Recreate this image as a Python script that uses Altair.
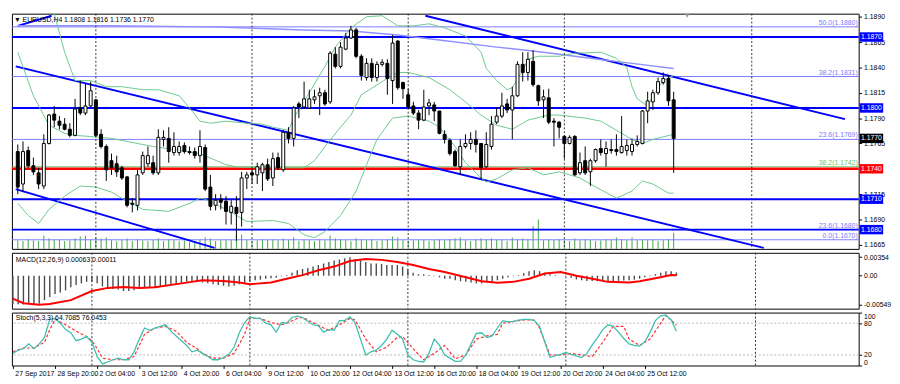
import altair as alt
import pandas as pd

FONT = "Liberation Sans"

# ---------------- price bars (H4, 27 Sep 2017 12:00 -> 26 Oct 2017 12:00) ----------------
opens = [1.1757,1.1725,1.1758,1.1743,1.1736,1.1723,1.1765,1.1794,1.1787,1.1784,
 1.1779,1.1773,1.1800,1.1795,1.1802,1.1808,1.1774,1.1762,1.1748,1.1745,
 1.1741,1.1732,1.1706,1.1704,1.1736,1.1745,1.1746,1.1736,1.1769,1.1770,
 1.1756,1.1756,1.1763,1.1757,1.1757,1.1753,1.1761,1.1722,1.1704,1.1710,
 1.1708,1.1697,1.1702,1.1697,1.1731,1.1736,1.1734,1.1736,1.1744,1.1731,
 1.1751,1.1739,1.1776,1.1770,1.1804,1.1801,1.1800,1.1808,1.1812,1.1815,
 1.1806,1.1853,1.1841,1.1858,1.1869,1.1877,1.1851,1.1830,1.1844,1.1830,
 1.1843,1.1844,1.1827,1.1866,1.1825,1.1813,1.1802,1.1795,1.1788,1.1802,
 1.1803,1.1797,1.1774,1.1768,1.1757,1.1742,1.1762,1.1765,1.1769,1.1765,
 1.1742,1.1762,1.1786,1.1792,1.1804,1.1798,1.1812,1.1843,1.1835,1.1846,
 1.1822,1.1808,1.1810,1.1787,1.1786,1.1772,1.1765,1.1772,1.1736,1.1748,
 1.1737,1.1748,1.1760,1.1755,1.1759,1.1759,1.1756,1.1758,1.1757,1.1764,
 1.1765,1.1797,1.1806,1.1815,1.1825,1.1829,1.1808]
highs = [1.1764,1.1767,1.1762,1.1751,1.1741,1.1774,1.1794,1.1802,1.1792,1.1790,
 1.1785,1.1809,1.1827,1.1824,1.1826,1.1809,1.1779,1.1764,1.1755,1.1753,
 1.1743,1.1733,1.1711,1.1739,1.1757,1.1762,1.1753,1.1779,1.1778,1.1781,
 1.1776,1.1767,1.1766,1.1762,1.1761,1.1778,1.1764,1.1734,1.1715,1.1715,
 1.1713,1.1709,1.1713,1.1737,1.1737,1.1741,1.1746,1.1746,1.1750,1.1756,
 1.1756,1.1778,1.1781,1.1802,1.1806,1.1826,1.1818,1.1818,1.1820,1.1818,
 1.1856,1.1860,1.1865,1.1874,1.1881,1.1879,1.1853,1.1849,1.1849,1.1846,
 1.1848,1.1848,1.1872,1.1867,1.1826,1.1819,1.1806,1.1798,1.1818,1.1809,
 1.1806,1.1797,1.1778,1.1770,1.1759,1.1769,1.1774,1.1776,1.1778,1.1765,
 1.1776,1.1792,1.1800,1.1815,1.1809,1.1821,1.1846,1.1855,1.1855,1.1857,
 1.1823,1.1818,1.1819,1.1790,1.1787,1.1773,1.1773,1.1773,1.1756,1.1762,
 1.1750,1.1760,1.1769,1.1767,1.1769,1.1774,1.1792,1.1769,1.1770,1.1773,
 1.1798,1.1816,1.1818,1.1830,1.1835,1.1832,1.1816]
lows = [1.1715,1.1717,1.1741,1.1734,1.1720,1.1720,1.1764,1.1781,1.1779,1.1778,
 1.1771,1.1772,1.1793,1.1793,1.1801,1.1771,1.1760,1.1728,1.1734,1.1732,
 1.1729,1.1702,1.1697,1.1699,1.1734,1.1742,1.1734,1.1734,1.1762,1.1746,
 1.1753,1.1753,1.1755,1.1754,1.1750,1.1746,1.1718,1.1699,1.1699,1.1700,
 1.1685,1.1685,1.1669,1.1683,1.1720,1.1725,1.1725,1.1718,1.1728,1.1723,
 1.1739,1.1737,1.1765,1.1762,1.1790,1.1799,1.1799,1.1804,1.1793,1.1802,
 1.1804,1.1839,1.1839,1.1857,1.1868,1.1849,1.1827,1.1827,1.1826,1.1826,
 1.1841,1.1813,1.1804,1.1818,1.1809,1.1799,1.1793,1.1779,1.1787,1.1793,
 1.1787,1.1774,1.1765,1.1753,1.1742,1.1734,1.1760,1.1759,1.1756,1.1730,
 1.1741,1.1759,1.1784,1.1790,1.1795,1.1769,1.1811,1.1826,1.1827,1.1821,
 1.1802,1.1790,1.1784,1.1762,1.1770,1.1750,1.1764,1.1733,1.1734,1.1734,
 1.1723,1.1746,1.1753,1.1742,1.1755,1.1753,1.1755,1.1753,1.1753,1.1762,
 1.1764,1.1785,1.1798,1.1813,1.1823,1.1802,1.1736]
closes = [1.1722,1.1757,1.1743,1.1737,1.1725,1.1765,1.1793,1.1788,1.1783,1.1779,
 1.1773,1.1799,1.1795,1.1802,1.1817,1.1773,1.1762,1.1739,1.1741,1.1737,
 1.1731,1.1704,1.1705,1.1734,1.1753,1.1753,1.1736,1.1771,1.1771,1.1757,
 1.1762,1.1762,1.1757,1.1756,1.1753,1.1762,1.1720,1.1703,1.1709,1.1707,
 1.1698,1.1703,1.1696,1.1731,1.1734,1.1734,1.1742,1.1744,1.1730,1.1750,
 1.1741,1.1776,1.1770,1.1800,1.1801,1.1809,1.1809,1.1811,1.1815,1.1804,
 1.1854,1.1841,1.1860,1.1869,1.1877,1.1851,1.1832,1.1844,1.1830,1.1843,
 1.1845,1.1829,1.1864,1.1820,1.1819,1.1801,1.1795,1.1788,1.1801,1.1805,
 1.1797,1.1775,1.1769,1.1755,1.1743,1.1762,1.1765,1.1769,1.1764,1.1741,
 1.1764,1.1784,1.1792,1.1802,1.1798,1.1812,1.1843,1.1835,1.1848,1.1823,
 1.1807,1.1811,1.1786,1.1786,1.1781,1.1765,1.1771,1.1734,1.1746,1.1736,
 1.1748,1.1759,1.1756,1.1760,1.1758,1.1757,1.1762,1.1763,1.1764,1.1767,
 1.1797,1.1807,1.1815,1.1826,1.1829,1.1807,1.1770]
volumes = [9100,8300,10200,9000,8400,14100,11200,9300,10100,8200,
 9000,11300,13200,14000,10100,12300,11000,12100,9200,8100,
 9300,11100,8200,10300,9100,8200,9400,11200,8300,10100,
 9200,8100,9000,7300,8200,10100,12200,11100,8300,9100,
 10200,9300,14200,15100,9200,8300,9100,10200,9300,10100,
 9200,11100,9300,12200,8400,10100,9200,8300,10200,9100,
 14100,11200,10300,9200,8100,11300,10100,9200,10200,8300,
 9100,10200,13100,12200,9300,8200,9100,9300,10100,8200,
 9300,10100,9200,10300,11100,12200,9100,8300,10100,11200,
 10100,11200,9300,10100,8400,12100,10200,11100,10300,24200,
 31100,9200,10100,9300,10200,9100,8300,11200,9100,10200,
 9300,8200,9100,10300,9200,12100,10100,9300,12200,9100,
 10300,9200,10100,8300,9200,10300,17200]

# ---------------- overlays ----------------
bb_upper_bars = [6,7,9,11,14,17,20,24,27,31,33,35,37,40,44,47,49,52,53,56,59,61,64,67,70,73,76,79,82,86,89,90,92,94,95,97,98,100,104,107,112,115,117,118,119,121,122,124,126]
bb_upper = [1.1912,1.1893,1.1855,1.1827,1.1827,1.1821,1.1821,1.1818,1.1818,1.1812,1.1800,1.1787,1.1785,1.1787,1.1785,1.1784,1.1781,1.1778,1.1790,1.1815,1.1841,1.1860,1.1879,1.1890,1.1891,1.1881,1.1881,1.1883,1.1879,1.1871,1.1855,1.1839,1.1827,1.1818,1.1820,1.1837,1.1848,1.1851,1.1851,1.1854,1.1855,1.1849,1.1840,1.1821,1.1809,1.1802,1.1812,1.1827,1.1832]
bb_mid_bars = [0,3,6,9,11,16,18,21,26,30,35,40,42,47,52,55,57,59,62,64,66,70,73,75,79,83,86,89,92,95,98,102,104,109,112,115,118,120,122,126]
bb_mid = [1.1855,1.1812,1.1783,1.1775,1.1773,1.1771,1.1770,1.1767,1.1762,1.1759,1.1755,1.1744,1.1742,1.1741,1.1741,1.1741,1.1748,1.1762,1.1781,1.1793,1.1813,1.1826,1.1835,1.1835,1.1830,1.1818,1.1806,1.1793,1.1783,1.1779,1.1788,1.1793,1.1793,1.1790,1.1787,1.1778,1.1769,1.1765,1.1769,1.1774]
bb_low_bars = [0,2,4,6,9,12,15,18,21,24,29,33,35,36,40,44,49,52,55,57,59,62,65,67,69,72,75,79,81,84,86,89,90,92,95,98,101,104,108,110,115,118,120,122,125,126]
bb_low = [1.1706,1.1694,1.1686,1.1700,1.1713,1.1723,1.1722,1.1717,1.1708,1.1700,1.1698,1.1706,1.1711,1.1710,1.1700,1.1688,1.1689,1.1686,1.1675,1.1672,1.1678,1.1694,1.1718,1.1744,1.1769,1.1790,1.1792,1.1787,1.1781,1.1762,1.1746,1.1731,1.1727,1.1730,1.1739,1.1741,1.1734,1.1737,1.1731,1.1725,1.1711,1.1718,1.1728,1.1725,1.1716,1.1716]
ma_bars = [0,18,37,55,64,73,81,92,101,110,118,126]
ma_vals = [1.1881,1.1881,1.1880,1.1877,1.1876,1.1872,1.1867,1.1860,1.1855,1.1849,1.1844,1.1839]

# trendlines: (bar_start, price_start, bar_end, price_end)
trend_bar0 = [-0.4, -0.4, 78.3, 0.0]
trend_p0 = [1.1841, 1.1720, 1.1891, 1.1881]
trend_bar1 = [143.3, 37.8, 158.9, 6.5]
trend_p1 = [1.1662, 1.1662, 1.1789, 1.1891]

hline_prices = [1.1870, 1.1800, 1.1710, 1.1680]
red_price = 1.1740
fib_prices = [1.1880, 1.1831, 1.1769, 1.1680, 1.1670]
fib_labels = ["50.0(1.1880)", "38.2(1.1831)", "23.6(1.1769)", "23.6(1.1680)", "0.0(1.1670)"]
fib_green_price = 1.1742
fib_green_label = "38.2(1.1742)"

price_ticks = [1.1890, 1.1865, 1.1840, 1.1815, 1.1790, 1.1765, 1.1715, 1.1690, 1.1665]
box_prices = [1.1870, 1.1800, 1.1770, 1.1740, 1.1710, 1.1680]
box_labels = ["1.1870", "1.1800", "1.1770", "1.1740", "1.1710", "1.1680"]
box_colors = ["#0000ff", "#0000ff", "#000000", "#ff0000", "#0000ff", "#0000ff"]

separator_bars = [15, 45, 75, 105, 141]

# ---------------- MACD ----------------
macd_hist = [-0.00540,-0.00545,-0.00549,-0.00545,-0.00549,-0.00535,-0.00467,-0.00408,-0.00350,-0.00321,
 -0.00280,-0.00222,-0.00175,-0.00146,-0.00117,-0.00117,-0.00146,-0.00204,-0.00233,-0.00251,
 -0.00262,-0.00292,-0.00292,-0.00280,-0.00251,-0.00233,-0.00233,-0.00216,-0.00204,-0.00192,
 -0.00163,-0.00157,-0.00134,-0.00117,-0.00117,-0.00117,-0.00128,-0.00146,-0.00163,-0.00175,
 -0.00192,-0.00204,-0.00192,-0.00163,-0.00134,-0.00105,-0.00087,-0.00076,-0.00058,-0.00047,
 -0.00041,-0.00012,0.00012,0.00058,0.00105,0.00128,0.00146,0.00175,0.00204,0.00233,
 0.00262,0.00292,0.00309,0.00332,0.00354,0.00321,0.00292,0.00262,0.00233,0.00233,
 0.00222,0.00204,0.00204,0.00204,0.00175,0.00117,0.00058,0.00029,0.00029,0.00012,
 -0.00012,-0.00029,-0.00058,-0.00058,-0.00087,-0.00105,-0.00117,-0.00128,-0.00146,-0.00146,
 -0.00128,-0.00117,-0.00087,-0.00058,-0.00029,-0.00012,0.00012,0.00047,0.00087,0.00105,
 0.00087,0.00058,0.00029,0.00012,0.0,-0.00012,-0.00041,-0.00070,-0.00087,-0.00099,
 -0.00099,-0.00105,-0.00105,-0.00099,-0.00099,-0.00099,-0.00093,-0.00087,-0.00076,-0.00058,
 -0.00029,-0.00012,0.00029,0.00058,0.00087,0.00087,0.00063]
macd_sig_bars = [0,2,5,7,11,15,18,21,24,27,32,36,40,43,45,49,52,55,58,61,64,67,70,73,76,79,82,86,89,92,95,98,101,104,107,110,113,117,119,122,125,126]
macd_sig = [-0.00437,-0.00525,-0.00554,-0.00542,-0.00467,-0.00292,-0.00233,-0.00216,-0.00233,-0.00222,-0.00146,-0.00087,-0.00099,-0.00128,-0.00163,-0.00128,-0.00058,0.00012,0.00105,0.00175,0.00280,0.00321,0.00303,0.00262,0.00204,0.00128,0.00070,-0.00029,-0.00105,-0.00134,-0.00117,-0.00058,0.00041,0.00070,0.0,-0.00058,-0.00117,-0.00128,-0.00105,-0.00047,0.00012,0.00011]
macd_ticks = [0.00354, 0.0, -0.00549]
macd_tick_labels = ["0.00354", "0.00", "-0.00549"]

# ---------------- Stochastic ----------------
stoch_main = [22.9,28.9,31.9,40.9,31.9,40.9,52.9,87.2,89.0,80.0,
 67.9,61.9,46.9,49.9,54.7,43.9,16.9,3.1,6.7,10.9,
 13.9,10.9,10.9,25.9,49.9,70.9,66.7,70.9,73.9,77.0,
 64.9,55.9,46.9,37.9,25.9,28.9,22.9,16.9,10.9,10.9,
 15.1,21.1,34.9,61.9,81.2,92.0,89.0,89.0,80.0,77.0,
 63.1,81.2,80.0,90.8,93.2,90.8,83.0,77.0,75.1,63.1,
 67.9,66.7,84.8,84.8,92.0,80.0,49.9,19.9,25.9,28.9,
 37.9,49.9,66.7,58.9,49.9,19.9,10.9,7.9,6.7,22.9,
 49.9,37.9,19.9,13.9,7.9,7.9,19.9,40.9,60.7,61.9,
 52.9,55.9,70.9,84.8,82.4,83.6,86.0,87.2,87.2,84.8,
 73.9,43.9,15.1,18.7,21.1,24.7,21.1,18.1,15.1,22.9,
 39.1,52.9,67.9,77.0,73.9,63.1,51.1,40.9,37.9,36.7,
 45.1,63.1,84.8,93.8,95.0,86.0,64.7]
stoch_sig_bars = [0,2,4,6,7,8,10,12,14,15,16,17,19,21,23,24,25,27,29,31,33,35,36,38,40,42,44,45,47,49,51,52,54,55,57,59,60,62,64,65,67,69,71,73,74,76,78,80,82,84,86,88,90,92,93,95,97,99,100,102,104,106,108,110,112,114,116,117,119,121,123,124,126]
stoch_sig = [25.9,33.1,33.1,43.9,67.9,87.2,77.0,64.9,54.7,46.9,31.9,13.9,10.9,10.9,16.9,37.9,58.9,70.9,73.9,64.9,43.9,31.9,22.9,13.9,13.9,22.9,58.9,89.0,89.0,81.2,77.0,80.0,89.0,90.8,81.2,70.9,66.7,77.0,89.0,86.0,49.9,25.9,34.9,52.9,54.7,31.9,10.9,22.9,37.9,12.7,19.9,49.9,55.9,58.9,80.0,83.0,86.0,86.0,70.9,19.9,19.9,22.9,19.9,16.9,43.9,73.9,73.9,49.9,37.9,49.9,80.0,95.0,76.0]
stoch_ticks = [100, 80, 20, 0]
stoch_levels = [80, 20]

x_label_bars = [0, 8, 16, 24, 32, 40, 48, 56, 64, 72, 80, 88, 96, 104, 112, 120]
x_labels = ["27 Sep 2017", "28 Sep 20:00", "2 Oct 04:00", "3 Oct 12:00", "4 Oct 20:00",
            "6 Oct 04:00", "9 Oct 12:00", "10 Oct 20:00", "12 Oct 04:00", "13 Oct 12:00",
            "16 Oct 20:00", "18 Oct 04:00", "19 Oct 12:00", "20 Oct 20:00", "24 Oct 04:00",
            "25 Oct 12:00"]

title_text = "\u25bc EURUSD,H4  1.1808 1.1816 1.1736 1.1770"
macd_text = "MACD(12,26,9) 0.00063 0.00011"
stoch_text = "Stoch(5,3,3) 64.7085 76.0453"

# ---------------- frames ----------------
N = len(opens)
cd = pd.DataFrame({"bar": list(range(N)), "open": opens, "high": highs,
                   "low": lows, "close": closes, "vol": volumes})
cd["lo"] = cd[["open", "close"]].min(axis=1)
cd["hi"] = cd[["open", "close"]].max(axis=1)
cd["bull"] = cd["close"] >= cd["open"]
cd["zero"] = 0.0

W = 864
xs = alt.Scale(domain=[-0.186, 160.6], nice=False, zero=False)
ps = alt.Scale(domain=[1.1661, 1.1893], nice=False, zero=False)
price_axis = alt.Axis(orient="right", values=price_ticks, format=".4f", tickSize=3,
                      labelPadding=2, title=None, grid=False, domain=False,
                      labelOverlap=False)


def XN(f="bar"):
    return alt.X(f"{f}:Q", scale=xs, axis=None, title=None)


def YP(f):
    return alt.Y(f"{f}:Q", scale=ps, axis=price_axis, title=None)


sep_df = pd.DataFrame({"bar": separator_bars})

vol_layer = alt.Chart(cd).mark_rule(color="#3fa33f", strokeWidth=1).encode(
    x=XN(), y=alt.Y("vol:Q", scale=alt.Scale(domain=[0, 249000], nice=False), axis=None),
    y2="zero:Q")

fib_df = pd.DataFrame({"price": fib_prices + [fib_green_price],
                       "label": fib_labels + [fib_green_label],
                       "color": ["#7a7aff"] * len(fib_prices) + ["#6cc36c"]})
fib_rules = alt.Chart(fib_df).mark_rule(strokeWidth=1).encode(
    y=YP("price"), color=alt.Color("color:N", scale=None))
hl_df = pd.DataFrame({"price": hline_prices})
hl_rules = alt.Chart(hl_df).mark_rule(strokeWidth=2, color="#0000ff").encode(y=YP("price"))
red_rule = alt.Chart(pd.DataFrame({"price": [red_price]})).mark_rule(
    strokeWidth=2.5, color="#ff0000").encode(y=YP("price"))

tr_df = pd.DataFrame({"b0": trend_bar0, "p0": trend_p0, "b1": trend_bar1, "p1": trend_p1})
trend = alt.Chart(tr_df).mark_rule(strokeWidth=2, color="#0000ff", clip=True).encode(
    x=XN("b0"), x2="b1:Q", y=YP("p0"), y2="p1:Q")

ma_df = pd.DataFrame({"bar": ma_bars, "v": ma_vals})
ma_line = alt.Chart(ma_df).mark_line(strokeWidth=1.5, color="#8f8fff", clip=True).encode(
    x=XN(), y=YP("v"))

bb_df = pd.concat([
    pd.DataFrame({"bar": bb_upper_bars, "v": bb_upper, "band": "up"}),
    pd.DataFrame({"bar": bb_mid_bars, "v": bb_mid, "band": "mid"}),
    pd.DataFrame({"bar": bb_low_bars, "v": bb_low, "band": "low"}),
])
bands = alt.Chart(bb_df).mark_line(strokeWidth=1, color="#6cc98c", clip=True).encode(
    x=XN(), y=YP("v"), detail="band:N")

seps_main = alt.Chart(sep_df).mark_rule(strokeDash=[2, 2], color="#333333", strokeWidth=1).encode(x=XN())

wicks = alt.Chart(cd).mark_rule(color="black", strokeWidth=1).encode(
    x=XN(), y=YP("low"), y2="high:Q")
bodies = alt.Chart(cd).mark_bar(size=3, stroke="black", strokeWidth=1).encode(
    x=XN(), y=YP("lo"), y2="hi:Q",
    fill=alt.condition("datum.bull", alt.value("white"), alt.value("black")))

fib_text = alt.Chart(fib_df).mark_text(align="right", baseline="bottom", dy=-1,
                                       fontSize=7, font=FONT).encode(
    x=alt.value(W - 1), y=YP("price"), text="label:N", color=alt.Color("color:N", scale=None))

box_df = pd.DataFrame({"price": box_prices, "label": box_labels, "bg": box_colors})
BOX = "M-1,-0.4H1V0.4H-1Z"
boxes = alt.Chart(box_df).mark_point(shape=BOX, size=576, filled=True, opacity=1,
                                     strokeWidth=0).encode(
    x=alt.value(W + 13), y=YP("price"), color=alt.Color("bg:N", scale=None))
box_text = alt.Chart(box_df).mark_text(color="white", fontSize=7, font=FONT,
                                       align="center", baseline="middle").encode(
    x=alt.value(W + 13), y=YP("price"), text="label:N")

title = alt.Chart(pd.DataFrame({"t": [title_text]})).mark_text(
    align="left", baseline="middle", fontSize=7, font=FONT, color="black").encode(
    x=alt.value(2), y=alt.value(6), text="t:N")
tri = alt.Chart(pd.DataFrame({"t": [0]})).mark_point(
    shape="triangle-down", filled=True, color="#9a9a9a", size=22, opacity=1).encode(
    x=alt.value(689), y=alt.value(2))

main = alt.layer(
    vol_layer,
    alt.layer(fib_rules, hl_rules, red_rule, trend, ma_line, bands, seps_main,
              wicks, bodies, fib_text, boxes, box_text, title, tri)
).resolve_scale(y="independent").properties(width=W, height=240)

# ---------------- MACD panel ----------------
ms = alt.Scale(domain=[-0.0063, 0.00438], nice=False, zero=False)
macd_expr = ("datum.value > 0.001 ? '%s' : (datum.value < -0.001 ? '%s' : '%s')"
             % (macd_tick_labels[0], macd_tick_labels[2], macd_tick_labels[1]))
macd_axis = alt.Axis(orient="right", values=macd_ticks, labelExpr=macd_expr, tickSize=3,
                     labelPadding=2, title=None, grid=False, domain=False,
                     labelOverlap=False)
mh = pd.DataFrame({"bar": list(range(N)), "v": macd_hist, "zero": 0.0})
hist = alt.Chart(mh).mark_rule(color="#4a4a4a", strokeWidth=1.4).encode(
    x=XN(), y=alt.Y("v:Q", scale=ms, axis=macd_axis, title=None), y2="zero:Q")
msig = alt.Chart(pd.DataFrame({"bar": macd_sig_bars, "v": macd_sig})).mark_line(
    color="#ff0000", strokeWidth=2).encode(
    x=XN(), y=alt.Y("v:Q", scale=ms, axis=macd_axis, title=None))
seps_macd = alt.Chart(sep_df).mark_rule(strokeDash=[2, 2], color="#333333").encode(x=XN())
macd_lbl = alt.Chart(pd.DataFrame({"t": [macd_text]})).mark_text(
    align="left", baseline="middle", fontSize=7, font=FONT, color="black").encode(
    x=alt.value(4), y=alt.value(7), text="t:N")
macd = alt.layer(hist, seps_macd, msig, macd_lbl).properties(width=W, height=57)

# ---------------- Stochastic panel ----------------
ss = alt.Scale(domain=[0, 100], nice=False, zero=False)
x_expr = "[" + ",".join("'%s'" % s for s in x_labels) + "][round(datum.value / 8)]"
x_axis = alt.Axis(orient="bottom", values=x_label_bars, labelExpr=x_expr, labelAlign="left",
                  labelOffset=2, labelPadding=1, tickSize=3, title=None, grid=False,
                  domain=False, labelFontSize=7, labelFlush=False, labelOverlap=False)
stoch_axis = alt.Axis(orient="right", values=stoch_ticks, tickSize=3, labelPadding=2,
                      title=None, grid=False, domain=False, labelFlush=True,
                      labelOverlap=False)


def XS(f="bar"):
    return alt.X(f"{f}:Q", scale=xs, axis=x_axis, title=None)


def YS(f):
    return alt.Y(f"{f}:Q", scale=ss, axis=stoch_axis, title=None)


lv = alt.Chart(pd.DataFrame({"v": stoch_levels})).mark_rule(
    color="#b8b8b8", strokeDash=[2, 2], strokeWidth=1).encode(y=YS("v"))
seps_st = alt.Chart(sep_df).mark_rule(strokeDash=[2, 2], color="#333333").encode(x=XS())
st_main = alt.Chart(pd.DataFrame({"bar": list(range(N)), "v": stoch_main})).mark_line(
    color="#3fbfb0", strokeWidth=1.3).encode(x=XS(), y=YS("v"))
st_sig = alt.Chart(pd.DataFrame({"bar": stoch_sig_bars, "v": stoch_sig})).mark_line(
    color="#ff3030", strokeWidth=1.2, strokeDash=[3, 2]).encode(x=XS(), y=YS("v"))
st_lbl = alt.Chart(pd.DataFrame({"t": [stoch_text]})).mark_text(
    align="left", baseline="middle", fontSize=7, font=FONT, color="black").encode(
    x=alt.value(4), y=alt.value(6), text="t:N")
stoch = alt.layer(lv, seps_st, st_sig, st_main, st_lbl).properties(width=W, height=54)

chart = alt.vconcat(main, macd, stoch, spacing=2).properties(
    padding=0, background="white"
).configure_view(stroke="black", strokeWidth=1).configure_axis(
    labelFont=FONT, labelFontSize=7, labelColor="black", tickColor="black"
).configure_concat(spacing=2)

chart.save("out.html", embed_options={"renderer": "svg", "actions": False})
